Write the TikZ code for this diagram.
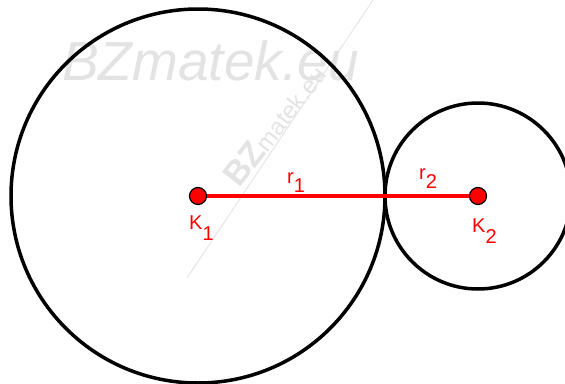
\documentclass[tikz,border=0pt]{standalone}
\usepackage{fontspec}
\setmainfont{Liberation Sans}
\begin{document}
\begin{tikzpicture}[x=1pt,y=-1pt,
  circ/.style={draw=black,line width=3.5pt},
  ctr/.style={circle,fill=red,draw=black,line width=1.2pt,minimum size=17pt,inner sep=0pt},
  seg/.style={draw=red,line width=4pt},
  lbl/.style={text=red,font=\fontsize{20}{20}\selectfont,inner sep=0pt},
  wm/.style={text=black!11,inner sep=0pt}]
\useasboundingbox (0,0) rectangle (565,383);
% watermark
\node[wm,anchor=base west,font=\fontsize{55}{55}\selectfont\itshape] (wm1) at (62,80) {BZmatek.eu};
\coordinate (wa) at (187,278);
\coordinate (wb) at (373,0);
\draw[black!12,line width=0.8pt] (wa) -- (wb);
\node[wm,anchor=base west,rotate=52] (wm2) at (239,189) {{\fontsize{34}{34}\selectfont\bfseries BZ}{\fontsize{24}{24}\selectfont matek.eu}};
% circles
\node[circ,circle,minimum size=374pt,inner sep=0pt] (c1) at (198,196) {};
\node[circ,circle,minimum size=186pt,inner sep=0pt] (c2) at (478,196) {};
% segment
\coordinate (k1) at (198,196);
\coordinate (k2) at (478,196);
\draw[seg] (k1) -- (k2);
\node[ctr] (K1) at (k1) {};
\node[ctr] (K2) at (k2) {};
% labels
\node[lbl,anchor=base west] (lK1) at (189,229) {K\raisebox{-1.1ex}{\fontsize{20}{20}\selectfont 1}};
\node[lbl,anchor=base west] (lK2) at (472,232) {K\raisebox{-1.1ex}{\fontsize{20}{20}\selectfont 2}};
\node[lbl,anchor=base west] (lr1) at (287,183) {r\raisebox{-0.9ex}{\fontsize{20}{20}\selectfont 1}};
\node[lbl,anchor=base west] (lr2) at (419,179) {r\raisebox{-0.9ex}{\fontsize{20}{20}\selectfont 2}};
\end{tikzpicture}
\end{document}
